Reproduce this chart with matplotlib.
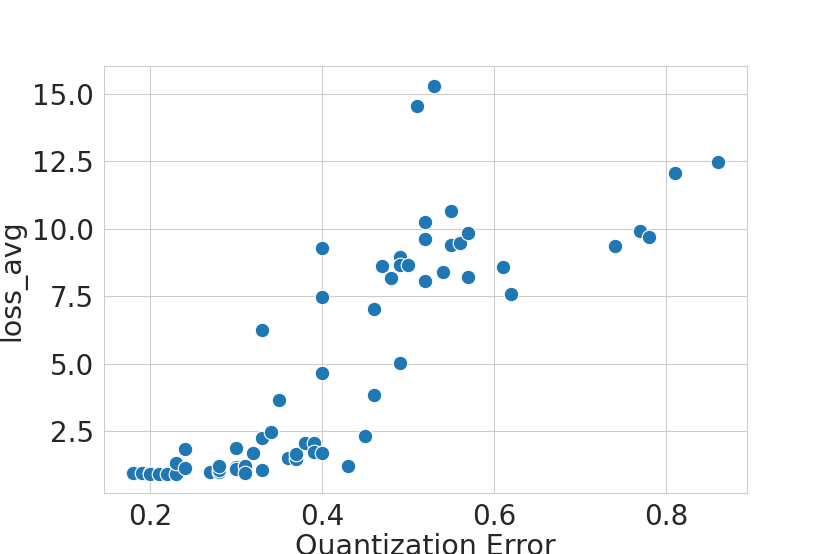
import matplotlib
matplotlib.use("Agg")
import matplotlib.pyplot as plt
import seaborn as sns
import pandas as pd

# values
quant_error = [0.18, 0.19, 0.20, 0.20, 0.21, 0.22, 0.23, 0.23, 0.24, 0.24,
               0.27, 0.28, 0.28, 0.28, 0.30, 0.30, 0.30, 0.31, 0.31, 0.32,
               0.33, 0.33, 0.33, 0.34, 0.35, 0.36, 0.37, 0.37, 0.38, 0.39,
               0.39, 0.40, 0.40, 0.40, 0.40, 0.43, 0.45, 0.46, 0.46, 0.47,
               0.48, 0.49, 0.49, 0.49, 0.50, 0.51, 0.52, 0.52, 0.52, 0.53,
               0.54, 0.55, 0.55, 0.56, 0.57, 0.57, 0.61, 0.62, 0.74, 0.77,
               0.78, 0.81, 0.86]
loss_avg = [0.95, 0.95, 0.95, 0.92, 0.92, 0.92, 0.92, 1.33, 1.12, 1.83,
            1.00, 0.98, 1.05, 1.22, 1.87, 1.15, 1.08, 1.19, 0.95, 1.68,
            2.25, 1.07, 6.23, 2.45, 3.64, 1.50, 1.47, 1.66, 2.05, 2.06,
            1.71, 1.68, 4.64, 7.45, 9.28, 1.19, 2.30, 3.83, 7.01, 8.63,
            8.17, 8.96, 8.65, 5.02, 8.65, 14.55, 10.26, 9.62, 8.07, 15.29,
            8.41, 10.67, 9.40, 9.45, 9.83, 8.19, 8.59, 7.57, 9.37, 9.93,
            9.70, 12.07, 12.47]

df = pd.DataFrame({"Quantization Error": quant_error, "loss_avg": loss_avg})

sns.set_style("whitegrid")
plt.rcParams["font.size"] = 20

fig = plt.figure(figsize=(8.3, 5.54), dpi=100)
ax = fig.add_subplot(111)
sns.scatterplot(data=df, x="Quantization Error", y="loss_avg", s=110, ax=ax)
ax.set_yticks([2.5, 5.0, 7.5, 10.0, 12.5, 15.0])
ax.set_xlabel("Quantization Error", fontsize=20.5, labelpad=1)
ax.set_ylabel("loss_avg", fontsize=20.5)

fig.savefig("out.png", dpi=100)
